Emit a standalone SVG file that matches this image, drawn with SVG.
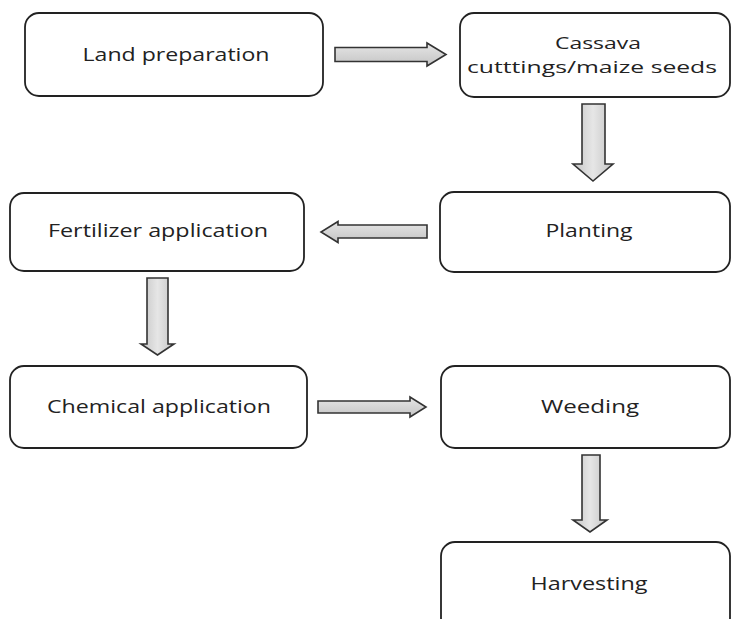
<svg xmlns="http://www.w3.org/2000/svg" width="732" height="619" viewBox="0 0 732 619">
<defs>
<linearGradient id="gh" x1="0" y1="0" x2="0" y2="1"><stop offset="0" stop-color="#e6e6e6"/><stop offset="1" stop-color="#c4c4c4"/></linearGradient>
<linearGradient id="gv" x1="0" y1="0" x2="1" y2="0"><stop offset="0" stop-color="#c4c4c4"/><stop offset="0.5" stop-color="#e6e6e6"/><stop offset="1" stop-color="#c4c4c4"/></linearGradient>
<style>
.box{fill:#fff;stroke:#222;stroke-width:1.8}
.t{font-family:"Open Sans","Liberation Sans",sans-serif;font-size:18.5px;fill:#222;text-anchor:middle}
.s{font-size:17px}
.ah{fill:url(#gh);stroke:#333;stroke-width:1.6;stroke-linejoin:miter}
.av{fill:url(#gv);stroke:#333;stroke-width:1.6;stroke-linejoin:miter}
</style>
</defs>
<rect width="732" height="619" fill="#fff"/>
<g id="land">
<rect class="box" x="25" y="13" width="298" height="83" rx="14"/>
<text class="t" x="176" y="61" textLength="187" lengthAdjust="spacingAndGlyphs">Land preparation</text>
</g>
<g id="cassava">
<rect class="box" x="460" y="13" width="270" height="84" rx="14"/>
<text class="t s" x="598" y="49" textLength="86" lengthAdjust="spacingAndGlyphs">Cassava</text>
<text class="t s" x="592" y="73" textLength="250" lengthAdjust="spacingAndGlyphs">cutttings/maize seeds</text>
</g>
<g id="planting">
<rect class="box" x="440" y="192" width="290" height="80" rx="14"/>
<text class="t" x="589" y="237" textLength="87" lengthAdjust="spacingAndGlyphs">Planting</text>
</g>
<g id="fertilizer">
<rect class="box" x="10" y="193" width="294" height="78" rx="14"/>
<text class="t" x="158" y="237" textLength="220" lengthAdjust="spacingAndGlyphs">Fertilizer application</text>
</g>
<g id="chemical">
<rect class="box" x="10" y="366" width="297" height="82" rx="14"/>
<text class="t" x="159" y="413" textLength="224" lengthAdjust="spacingAndGlyphs">Chemical application</text>
</g>
<g id="weeding">
<rect class="box" x="441" y="366" width="289" height="82" rx="14"/>
<text class="t" x="590" y="413" textLength="98" lengthAdjust="spacingAndGlyphs">Weeding</text>
</g>
<g id="harvesting">
<rect class="box" x="441" y="542" width="289" height="90" rx="14"/>
<text class="t" x="589" y="590" textLength="117" lengthAdjust="spacingAndGlyphs">Harvesting</text>
</g>
<g id="connectors">
<polygon class="ah" points="335,47.5 427,47.5 427,43 446,54.5 427,66 427,61.5 335,61.5"/>
<polygon class="av" points="582,104 605,104 605,164 613,164 593,181 573,164 582,164"/>
<polygon class="ah" points="427,225 338,225 338,221.5 321,232 338,242.5 338,238 427,238"/>
<polygon class="av" points="147,278 168,278 168,344 174,344 157.5,355 141,344 147,344"/>
<polygon class="ah" points="318,401 410,401 410,397 426,407 410,417 410,413 318,413"/>
<polygon class="av" points="582,455 600,455 600,520 607,520 590,532 573,520 582,520"/>
</g>
</svg>
